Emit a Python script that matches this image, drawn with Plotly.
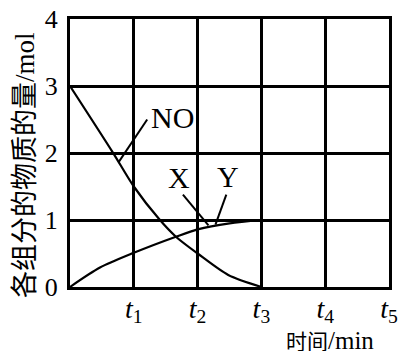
import plotly.graph_objects as go

# Data (time in units of t, amount in mol)
no_t = [0, 0.67, 1.0, 1.4, 1.66, 2.0, 2.48, 3.0]
no_v = [3.0, 2.01, 1.50, 1.01, 0.75, 0.50, 0.18, 0.0]
xy_t = [0, 0.47, 1.0, 1.66, 2.0, 2.5, 3.0]
xy_v = [0.0, 0.29, 0.51, 0.75, 0.86, 0.95, 1.0]

x_tickvals = [1, 2, 3, 4, 5]
x_ticktext = ["<i>t</i><sub>1</sub>", "<i>t</i><sub>2</sub>", "<i>t</i><sub>3</sub>",
              "<i>t</i><sub>4</sub>", "<i>t</i><sub>5</sub>"]
y_tickvals = [0, 1, 2, 3, 4]
y_ticktext = ["0", "1", "2", "3", "4"]

# Curve labels and their leader lines
label_text = ["NO", "X", "Y"]
label_x = [1.60, 1.71, 2.48]
label_y = [2.53, 1.64, 1.65]
leader_x = [[1.21, 0.76], [1.77, 2.17], [2.45, 2.28]]
leader_y = [[2.50, 1.86], [1.38, 0.92], [1.38, 0.93]]

SERIF = "Liberation Serif, Times New Roman, Noto Sans CJK SC, serif"

fig = go.Figure()
fig.add_trace(go.Scatter(x=no_t, y=no_v, mode="lines",
                         line=dict(color="black", width=2.2, shape="spline", smoothing=0.8),
                         showlegend=False, hoverinfo="skip"))
fig.add_trace(go.Scatter(x=xy_t, y=xy_v, mode="lines",
                         line=dict(color="black", width=2.2, shape="spline", smoothing=0.8),
                         showlegend=False, hoverinfo="skip"))
for lx, ly in zip(leader_x, leader_y):
    fig.add_trace(go.Scatter(x=lx, y=ly, mode="lines",
                             line=dict(color="black", width=2),
                             showlegend=False, hoverinfo="skip"))

for t, x, y in zip(label_text, label_x, label_y):
    fig.add_annotation(x=x, y=y, xref="x", yref="y", text=t, showarrow=False,
                       xanchor="center", yanchor="middle",
                       font=dict(family=SERIF, size=30, color="black"))

fig.add_annotation(x=-0.141, y=0.455, xref="paper", yref="paper",
                   text="各组分的物质的量/mol", textangle=-90, showarrow=False,
                   xanchor="center", yanchor="middle",
                   font=dict(family=SERIF, size=27, color="black"))
fig.add_annotation(x=0.815, y=-0.2, xref="paper", yref="paper",
                   text="<span style='font-size:21px'>时间</span>/min",
                   showarrow=False, xanchor="center", yanchor="middle",
                   font=dict(family=SERIF, size=25, color="black"))

fig.update_xaxes(range=[0, 5], tickvals=x_tickvals, ticktext=x_ticktext,
                 showgrid=True, gridcolor="black", gridwidth=2.5,
                 showline=True, linecolor="black", linewidth=3, mirror=True,
                 zeroline=False, ticks="", ticklabelstandoff=-6, automargin=False,
                 ticklabeloverflow="allow",
                 tickfont=dict(family=SERIF, size=28, color="black"))
fig.update_yaxes(range=[0, 4], tickvals=y_tickvals, ticktext=y_ticktext,
                 showgrid=True, gridcolor="black", gridwidth=2.5,
                 showline=True, linecolor="black", linewidth=3, mirror=True,
                 zeroline=False, ticks="", ticklabelstandoff=4, automargin=False,
                 ticklabeloverflow="allow",
                 tickfont=dict(family=SERIF, size=26, color="black"))

fig.update_layout(width=400, height=351, margin=dict(l=70, r=11, t=19, b=64),
                  paper_bgcolor="white", plot_bgcolor="white")

# remove the default 8px page margin so the figure fills the window exactly
fig.write_html("out.html", config={"displayModeBar": False},
               post_script="document.body.style.margin='0';document.body.style.overflow='hidden';")
